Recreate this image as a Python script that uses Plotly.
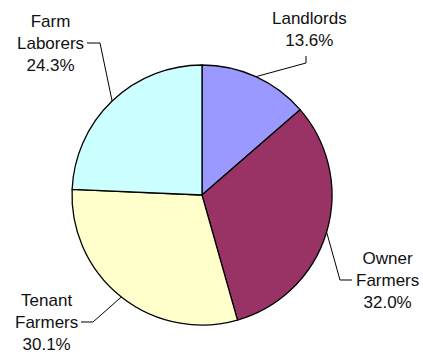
import math
import plotly.graph_objects as go

labels = ["Landlords", "Owner Farmers", "Tenant Farmers", "Farm Laborers"]
label_text = ["Landlords", "Owner<br>Farmers", "Tenant<br>Farmers", "Farm<br>Laborers"]
values = [13.6, 32.0, 30.1, 24.3]
colors = ["#9999FF", "#993366", "#FFFFCC", "#CCFFFF"]

W, H = 423, 356
CX, CY, R = 202, 195, 130

def px(x):
    return x / W

def py(y):
    return 1 - y / H

fig = go.Figure(go.Pie(
    labels=labels, values=values, sort=False, direction="clockwise", rotation=0,
    marker=dict(colors=colors, line=dict(color="black", width=1.3)),
    textinfo="none", hoverinfo="label+percent", showlegend=False,
    domain=dict(x=[px(CX - R), px(CX + R)], y=[py(CY + R), py(CY - R)]),
))

# label text centres and elbow points (pixels)
text_pos = [(309, 29), (387, 280), (46, 322), (50, 43)]
elbows = [[(306, 56), (306, 63)], [(352, 280), (340, 280)], [(81, 322), (93, 322)], [(87, 43), (100, 43)]]

total = sum(values)
cum = 0
shapes = []
annotations = []
for i, v in enumerate(values):
    mid = (cum + v / 2) / total * 2 * math.pi
    cum += v
    ax = CX + R * math.sin(mid)
    ay = CY - R * math.cos(mid)
    pts = elbows[i] + [(ax, ay)]
    path = "M " + " L ".join(f"{px(x):.5f},{py(y):.5f}" for x, y in pts)
    shapes.append(dict(type="path", path=path, xref="paper", yref="paper",
                       line=dict(color="black", width=1)))
    pct = f"{v / total * 100:.1f}%"
    annotations.append(dict(
        text=f"{label_text[i]}<br>{pct}", x=px(text_pos[i][0]), y=py(text_pos[i][1]),
        xref="paper", yref="paper", xanchor="center", yanchor="middle",
        showarrow=False, align="center",
        font=dict(family="Liberation Sans, Arial, sans-serif", size=17, color="#111111"),
    ))

fig.update_layout(
    width=W, height=H, margin=dict(l=0, r=0, t=0, b=0),
    paper_bgcolor="white", plot_bgcolor="white",
    shapes=shapes, annotations=annotations,
)
fig.write_html("out.html")
